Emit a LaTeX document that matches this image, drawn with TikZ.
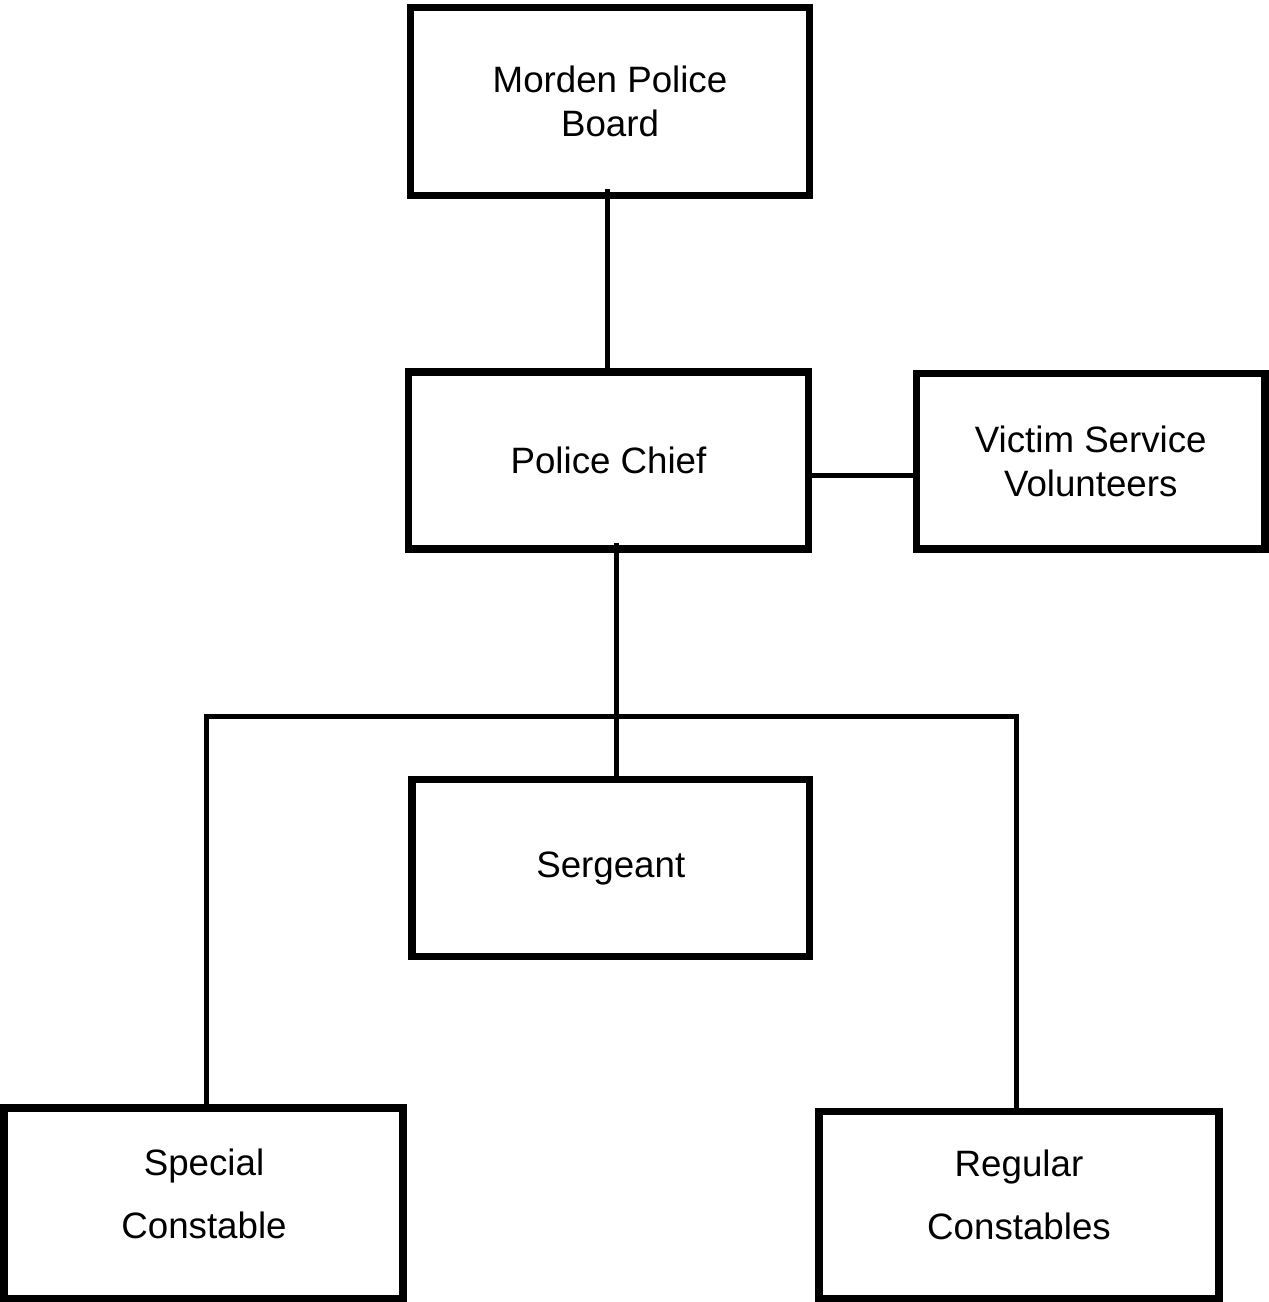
\documentclass[tikz,border=0pt]{standalone}
\usepackage{fontspec}
\setmainfont{Liberation Sans}
\begin{document}
\begin{tikzpicture}[x=1pt,y=-1pt,
  box/.style={draw,line width=7.5pt,rectangle,inner sep=0pt,align=center,
    font=\fontsize{36.7}{44}\selectfont},
  lbl/.style={align=center,inner sep=0pt,font=\fontsize{36.7}{63}\selectfont},
  conn/.style={line width=5pt}]
\useasboundingbox (0,0) rectangle (1269,1302);
\node[box,minimum width=399pt,minimum height=188pt] (board) at (610,101.5) {Morden Police\\Board};
\node[box,minimum width=400pt,minimum height=177pt] (chief) at (608.5,460.5) {Police Chief};
\node[box,minimum width=348.5pt,minimum height=175.5pt] (victim) at (1090.75,461.25) {Victim Service\\Volunteers};
\node[box,minimum width=397.5pt,minimum height=177pt] (sgt) at (610.75,868) {Sergeant};
\node[box,minimum width=399pt,minimum height=190.5pt] (special) at (203.5,1203.25) {};
\node[box,minimum width=400pt,minimum height=187pt] (regular) at (1019,1205) {};
\node[lbl] (specialtxt) at (204,1193.5) {Special\\Constable};
\node[lbl] (regulartxt) at (1019,1195) {Regular\\Constables};
\coordinate (b1) at (607.5,189);
\coordinate (c1) at (616.5,543);
\coordinate (hl) at (206.5,716.5);
\coordinate (hr) at (1016,716.5);
\draw[conn] (b1) -- (b1 |- chief.north);
\draw[conn] (chief.east |- 0,475.5) -- (victim.west |- 0,475.5);
\draw[conn] (c1) -- (c1 |- sgt.north);
\draw[conn] (hl |- special.north) -- (hl) -- (hr) -- (hr |- regular.north);
\end{tikzpicture}
\end{document}
